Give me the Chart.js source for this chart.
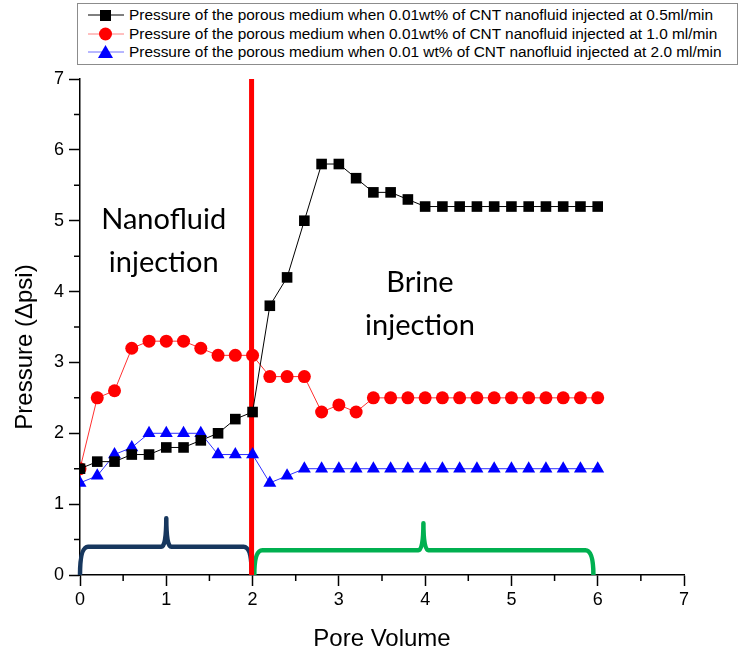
<!DOCTYPE html>
<html>
<head>
<meta charset="utf-8">
<script src="https://cdn.jsdelivr.net/npm/chart.js@4.4.1/dist/chart.umd.min.js"></script>
<style>
  html, body { margin: 0; padding: 0; background: #fff; }
  #contenedor { position: relative; width: 738px; height: 656px; }
  #grafico { position: absolute; left: 0; top: 0; }
  #leyenda {
    position: absolute; left: 77px; top: 3px; width: 659px; height: 60px;
    border: 1px solid #8c8c8c; background: #fff;
    font-family: "Liberation Sans", Arial, sans-serif; font-size: 15.4px; color: #000;
  }
  .fila { position: absolute; left: 10px; height: 18px; display: flex; align-items: center; white-space: nowrap; }
  .fila svg { margin-right: 5px; }
</style>
</head>
<body>
<div id="contenedor">
  <canvas id="grafico" width="738" height="656"></canvas>
  <div id="leyenda"></div>
</div>
<script>
// DATOS
const volumenPoroso = [0, 0.2, 0.4, 0.6, 0.8, 1.0, 1.2, 1.4, 1.6, 1.8, 2.0, 2.2, 2.4, 2.6, 2.8, 3.0,
  3.2, 3.4, 3.6, 3.8, 4.0, 4.2, 4.4, 4.6, 4.8, 5.0, 5.2, 5.4, 5.6, 5.8, 6.0];

const presion05 = [1.5, 1.6, 1.6, 1.7, 1.7, 1.8, 1.8, 1.9, 2.0, 2.2, 2.3, 3.8, 4.2, 5.0, 5.8, 5.8,
  5.6, 5.4, 5.4, 5.3, 5.2, 5.2, 5.2, 5.2, 5.2, 5.2, 5.2, 5.2, 5.2, 5.2, 5.2];

const presion10 = [1.5, 2.5, 2.6, 3.2, 3.3, 3.3, 3.3, 3.2, 3.1, 3.1, 3.1, 2.8, 2.8, 2.8, 2.3, 2.4,
  2.3, 2.5, 2.5, 2.5, 2.5, 2.5, 2.5, 2.5, 2.5, 2.5, 2.5, 2.5, 2.5, 2.5, 2.5];

const presion20 = [1.3, 1.4, 1.7, 1.8, 2.0, 2.0, 2.0, 2.0, 1.7, 1.7, 1.7, 1.3, 1.4, 1.5, 1.5, 1.5,
  1.5, 1.5, 1.5, 1.5, 1.5, 1.5, 1.5, 1.5, 1.5, 1.5, 1.5, 1.5, 1.5, 1.5, 1.5];

const etiquetas = [
  "Pressure of the porous medium when 0.01wt% of CNT nanofluid injected at 0.5ml/min",
  "Pressure of the porous medium when 0.01wt% of CNT nanofluid injected at 1.0 ml/min",
  "Pressure of the porous medium when 0.01 wt% of CNT nanofluid injected at 2.0 ml/min"
];

// limite entre inyecciones y llaves (en unidades de datos)
const cambioInyeccion = 2.0;
const llaveDesde = [0, 2.02];
const llaveHasta = [1.99, 5.95];
const llaveAltura = [0.4, 0.35];
const llavePunta = [0.8, 0.73];
const llaveCentro = [1.0, 3.98];

const textosNano = ["Nanofluid", "injection"];
const textosSalmuera = ["Brine", "injection"];
const tituloY = "Pressure (\u0394psi)";

const colores = ["#000000", "#ff0000", "#0000ff"];
const formas = ["rect", "circle", "triangle"];
const radios = [7.5, 6.5, 7.5];

function armarPuntos(valores) {
  return volumenPoroso.map((v, i) => ({ x: v, y: valores[i] }));
}

// LEYENDA
function cargarLeyenda() {
  const cont = document.getElementById("leyenda");
  const tops = [2, 21, 39];
  etiquetas.forEach((txt, i) => {
    const fila = document.createElement("div");
    fila.className = "fila";
    fila.style.top = tops[i] + "px";
    let marca = "";
    if (i === 0) marca = '<rect x="12" y="4" width="11" height="11" fill="#000"/>';
    if (i === 1) marca = '<circle cx="17.5" cy="9" r="6.5" fill="#f00"/>';
    if (i === 2) marca = '<polygon points="17.5,2 25,15 10,15" fill="#00f"/>';
    const lineaCol = i === 1 ? "#ff8080" : (i === 2 ? "#6f6fff" : "#000");
    fila.innerHTML =
      '<svg width="36" height="18"><line x1="0" y1="9" x2="36" y2="9" stroke="' + lineaCol + '" stroke-width="1"/>' +
      marca + '</svg><span>' + txt + '</span>';
    cont.appendChild(fila);
  });
}

// LLAVE
function dibujarLlave(ctx, x, y, i, color) {
  const x0 = x.getPixelForValue(llaveDesde[i]);
  const x1 = x.getPixelForValue(llaveHasta[i]);
  const xm = x.getPixelForValue(llaveCentro[i]);
  const yb = y.getPixelForValue(0);
  const yh = y.getPixelForValue(llaveAltura[i]);
  const yp = y.getPixelForValue(llavePunta[i]);
  const r = 8;
  ctx.save();
  ctx.strokeStyle = color;
  ctx.lineWidth = 4.5;
  ctx.lineJoin = "round";
  ctx.beginPath();
  ctx.moveTo(x0, yb);
  ctx.quadraticCurveTo(x0, yh, x0 + r, yh);
  ctx.lineTo(xm - r + 3, yh);
  ctx.quadraticCurveTo(xm, yh, xm, yp);
  ctx.quadraticCurveTo(xm, yh, xm + r - 3, yh);
  ctx.lineTo(x1 - r, yh);
  ctx.quadraticCurveTo(x1, yh, x1, yb);
  ctx.stroke();
  ctx.restore();
}

const anotaciones = {
  id: "anotaciones",
  beforeDatasetsDraw(chart) {
    const { ctx, scales: { x, y } } = chart;

    dibujarLlave(ctx, x, y, 0, "#17375e");
    dibujarLlave(ctx, x, y, 1, "#00b050");

    // linea roja de cambio
    const xc = x.getPixelForValue(cambioInyeccion) - 1;
    ctx.save();
    ctx.strokeStyle = "#ff0000";
    ctx.lineWidth = 5;
    ctx.beginPath();
    ctx.moveTo(xc, y.getPixelForValue(0));
    ctx.lineTo(xc, y.getPixelForValue(7));
    ctx.stroke();

    // textos
    ctx.fillStyle = "#000";
    ctx.font = "29px Lato, 'Open Sans', sans-serif";
    ctx.textAlign = "center";
    ctx.textBaseline = "alphabetic";
    ctx.fillText(textosNano[0], x.getPixelForValue(0.97), y.getPixelForValue(4.89));
    ctx.fillText(textosNano[1], x.getPixelForValue(0.97), y.getPixelForValue(4.27));
    ctx.fillText(textosSalmuera[0], x.getPixelForValue(3.94), y.getPixelForValue(3.99));
    ctx.fillText(textosSalmuera[1], x.getPixelForValue(3.94), y.getPixelForValue(3.39));
    ctx.restore();
  },
  afterDraw(chart) {
    const { ctx, scales: { x, y } } = chart;
    ctx.save();
    // ticks menores
    ctx.strokeStyle = "#000";
    ctx.lineWidth = 1.5;
    ctx.beginPath();
    for (let v = 0.5; v < 7; v += 1) {
      const px = x.getPixelForValue(v);
      ctx.moveTo(px, x.top);
      ctx.lineTo(px, x.top + 6);
      const py = y.getPixelForValue(v);
      ctx.moveTo(y.right, py);
      ctx.lineTo(y.right - 6, py);
    }
    ctx.stroke();

    // titulo eje Y
    ctx.translate(25, 347);
    ctx.rotate(-Math.PI / 2);
    ctx.fillStyle = "#000";
    ctx.font = "24px 'Liberation Sans', Arial, sans-serif";
    ctx.textAlign = "center";
    ctx.textBaseline = "middle";
    ctx.fillText(tituloY, 0, 0);
    ctx.restore();
  }
};

// GRAFICO
let grafico;

function cargarGrafico() {
  Chart.defaults.color = "#000";
  Chart.defaults.font.family = "'Liberation Sans', Arial, sans-serif";

  const series = [presion05, presion10, presion20];
  const lineas = ["#000000", "#ff3030", "#3030ff"];

  const ctx = document.getElementById("grafico");

  grafico = new Chart(ctx, {
    type: "line",
    data: {
      datasets: series.map((s, i) => ({
        label: etiquetas[i],
        data: armarPuntos(s),
        borderColor: lineas[i],
        borderWidth: 1,
        backgroundColor: colores[i],
        pointBackgroundColor: colores[i],
        pointBorderColor: colores[i],
        pointBorderWidth: 0,
        pointStyle: formas[i],
        pointRadius: radios[i],
        tension: 0
      }))
    },
    options: {
      responsive: false,
      animation: false,
      layout: { padding: { top: 79, right: 54, left: 0, bottom: 0 } },
      plugins: {
        legend: { display: false },
        tooltip: { enabled: false }
      },
      scales: {
        x: {
          type: "linear",
          min: 0,
          max: 7,
          afterFit: s => { s.height = 81; },
          border: { color: "#000", width: 1.5 },
          grid: {
            drawOnChartArea: false,
            drawTicks: true,
            tickLength: 11,
            tickWidth: 1.5,
            tickColor: c => (c.tick && Number.isInteger(c.tick.value)) ? "#000" : "rgba(0,0,0,0)"
          },
          ticks: {
            stepSize: 0.5,
            autoSkip: false,
            maxRotation: 0,
            padding: 3,
            font: { size: 18 },
            callback: v => Number.isInteger(v) ? v : ""
          },
          title: {
            display: true,
            text: "Pore Volume",
            font: { size: 24 },
            padding: { top: 0, bottom: 2 }
          }
        },
        y: {
          min: 0,
          max: 7,
          afterFit: s => { s.width = 80; },
          border: { color: "#000", width: 1.5 },
          grid: {
            drawOnChartArea: false,
            drawTicks: true,
            tickLength: 11,
            tickWidth: 1.5,
            tickColor: c => (c.tick && Number.isInteger(c.tick.value)) ? "#000" : "rgba(0,0,0,0)"
          },
          ticks: {
            stepSize: 0.5,
            autoSkip: false,
            padding: 5,
            font: { size: 18 },
            callback: v => Number.isInteger(v) ? v : ""
          },
          title: { display: false }
        }
      }
    },
    plugins: [anotaciones]
  });
}

window.onload = () => {
  cargarLeyenda();
  cargarGrafico();
};
</script>
</body>
</html>
